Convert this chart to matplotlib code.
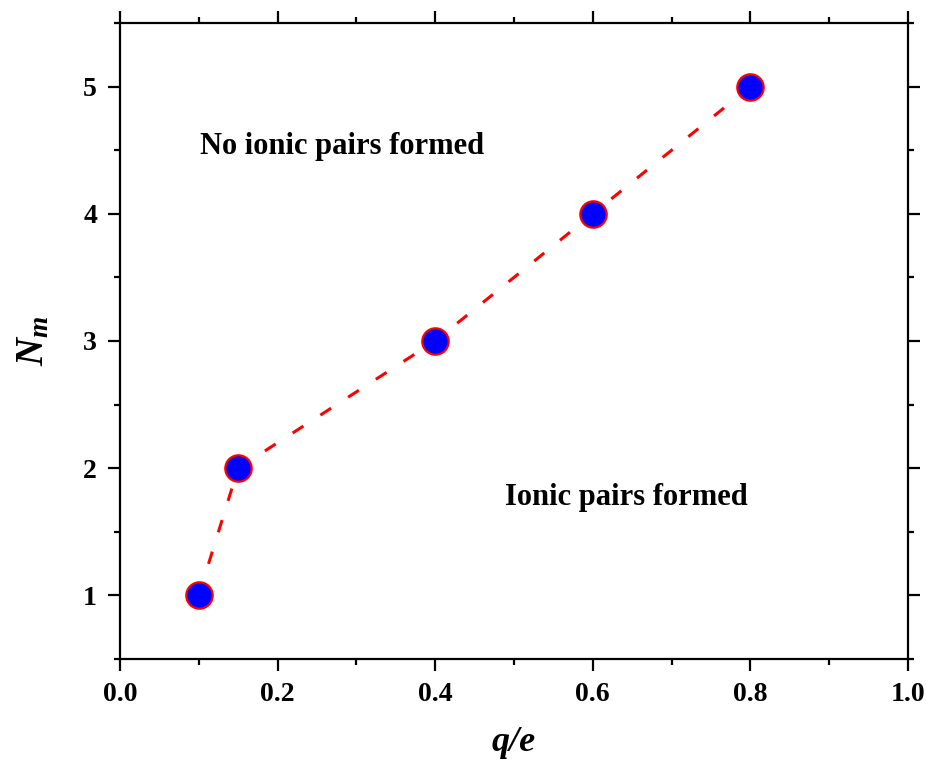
import matplotlib
matplotlib.use("Agg")
import matplotlib.pyplot as plt
from matplotlib.ticker import MultipleLocator

plt.rcParams['font.family'] = ['Liberation Serif', 'DejaVu Serif']
plt.rcParams['font.weight'] = 'bold'
plt.rcParams['mathtext.fontset'] = 'custom'
plt.rcParams['mathtext.it'] = 'Liberation Serif:italic:bold'
plt.rcParams['mathtext.rm'] = 'Liberation Serif:bold'

# charge ratio vs. minimal N
q_over_e = [0.1, 0.15, 0.4, 0.6, 0.8]
n_m = [1, 2, 3, 4, 5]

fig = plt.figure(figsize=(9.27, 7.65), dpi=100)
ax = fig.add_axes([0.1294, 0.1386, 0.8501, 0.8313])

ax.plot(q_over_e, n_m, linestyle=(0, (4.2, 6.6)), color='#ff0000', linewidth=2.2,
        dash_capstyle='butt', marker='o', markersize=19, markerfacecolor='#0000ff',
        markeredgecolor='#ff0000', markeredgewidth=1.6, zorder=3)

ax.set_xlim(0.0, 1.0)
ax.set_ylim(0.5, 5.5)
ax.xaxis.set_minor_locator(MultipleLocator(0.1))
ax.yaxis.set_minor_locator(MultipleLocator(0.5))
ax.set_xticks([0.0, 0.2, 0.4, 0.6, 0.8, 1.0])
ax.set_xticklabels(['0.0', '0.2', '0.4', '0.6', '0.8', '1.0'])
ax.set_yticks([1, 2, 3, 4, 5])
ax.set_yticklabels(['1', '2', '3', '4', '5'])

for sp in ax.spines.values():
    sp.set_linewidth(1.6)

ax.tick_params(which='both', direction='out', top=True, right=True,
               labeltop=False, labelright=False, width=1.6)
ax.tick_params(which='major', length=8.5, labelsize=20, pad=8)
ax.tick_params(which='minor', length=4.5)
for lbl in ax.get_xticklabels() + ax.get_yticklabels():
    lbl.set_fontweight('bold')

ax.set_xlabel('q/e', fontsize=26, fontstyle='italic', fontweight='bold', labelpad=14)
ax.set_ylabel(r'$N_m$', fontsize=28, labelpad=22)

ax.text(0.1015, 4.53, 'No ionic pairs formed', fontsize=22, fontweight='bold',
        ha='left', va='center')
ax.text(0.4886, 1.77, 'Ionic pairs formed', fontsize=22, fontweight='bold',
        ha='left', va='center')

fig.savefig('out.png', dpi=100)
